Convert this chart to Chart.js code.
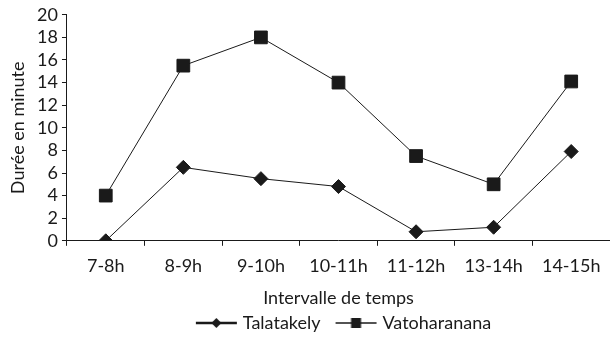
<!DOCTYPE html>
<html><head><meta charset="utf-8">
<script src="https://cdn.jsdelivr.net/npm/chart.js@4/dist/chart.umd.min.js"></script>
<style>html,body{margin:0;padding:0;background:#fff;overflow:hidden}#wrap{width:620px;height:337px;position:relative}</style>
</head><body><div id="wrap"><canvas id="c"></canvas></div>
<script>
const categories = ['7-8h','8-9h','9-10h','10-11h','11-12h','13-14h','14-15h'];
const talatakely = [0, 6.5, 5.5, 4.8, 0.8, 1.2, 7.9];
const vatoharanana = [4, 15.5, 18, 14, 7.5, 5, 14.1];
const seriesNames = ['Talatakely','Vatoharanana'];
const yTicks = [0,2,4,6,8,10,12,14,16,18,20];

const ink = '#1a1a1a';
const font = "'Lato', 'Open Sans', sans-serif";

function legendIcon(style){
  const c = document.createElement('canvas');
  c.width = 60; c.height = 14;
  const g = c.getContext('2d');
  g.strokeStyle = ink; g.lineWidth = style==='diamond'?2.5:1.5;
  g.beginPath(); g.moveTo(16,7); g.lineTo(57,7); g.stroke();
  g.fillStyle = ink;
  const cx = 36.5;
  if(style==='diamond'){ g.beginPath(); g.moveTo(cx,2); g.lineTo(cx+5,7); g.lineTo(cx,12); g.lineTo(cx-5,7); g.closePath(); g.fill(); }
  else { g.fillRect(cx-5,2,10,10); }
  return c;
}
const icons = [legendIcon('diamond'), legendIcon('square')];

new Chart(document.getElementById('c'), {
  type: 'line',
  data: {
    labels: categories,
    datasets: [
      {label: seriesNames[0], data: talatakely, borderColor: ink, backgroundColor: ink, borderWidth: 1, pointStyle: 'rectRot', pointRadius: 7, pointHoverRadius: 7, tension: 0},
      {label: seriesNames[1], data: vatoharanana, borderColor: ink, backgroundColor: ink, borderWidth: 1, pointStyle: 'rect', pointRadius: 9, pointHoverRadius: 9, tension: 0}
    ]
  },
  options: {
    responsive: true, maintainAspectRatio: false, animation: false,
    layout: {padding: {top: 9, right: 0, left: 7.5, bottom: -5}},
    plugins: {
      tooltip: {enabled: false},
      legend: {
        position: 'bottom',
        fullSize: false,
        labels: {
          color: ink, font: {family: font, size: 18, lineHeight: 1},
          usePointStyle: true, pointStyleWidth: 48, boxHeight: 14, padding: 5,
          generateLabels: (chart) => chart.data.datasets.map((d,i)=>({text: d.label, pointStyle: icons[i], fillStyle: ink, strokeStyle: ink, lineWidth: 0, datasetIndex: i, fontColor: ink}))
        }
      }
    },
    scales: {
      x: {
        offset: true,
        grid: {drawOnChartArea: false, drawTicks: true, tickLength: 5, offset: true, color: ink},
        border: {color: ink, width: 1},
        ticks: {color: ink, font: {family: font, size: 18}, padding: 10, maxRotation: 0, autoSkip: false},
        title: {display: true, text: 'Intervalle de temps', color: ink, font: {family: font, size: 18}, padding: {top: 0, bottom: 0}}
      },
      y: {
        min: 0, max: 20,
        afterBuildTicks: (s) => { s.ticks = yTicks.map(v=>({value: v})); },
        grid: {drawOnChartArea: false, drawTicks: true, tickLength: 5, color: ink},
        border: {color: ink, width: 1},
        ticks: {color: ink, font: {family: font, size: 18}, padding: 4, autoSkip: false},
        title: {display: true, text: 'Durée en minute', color: ink, font: {family: font, size: 18}, padding: {top: 0, bottom: 4}}
      }
    }
  }
});
</script></body></html>
